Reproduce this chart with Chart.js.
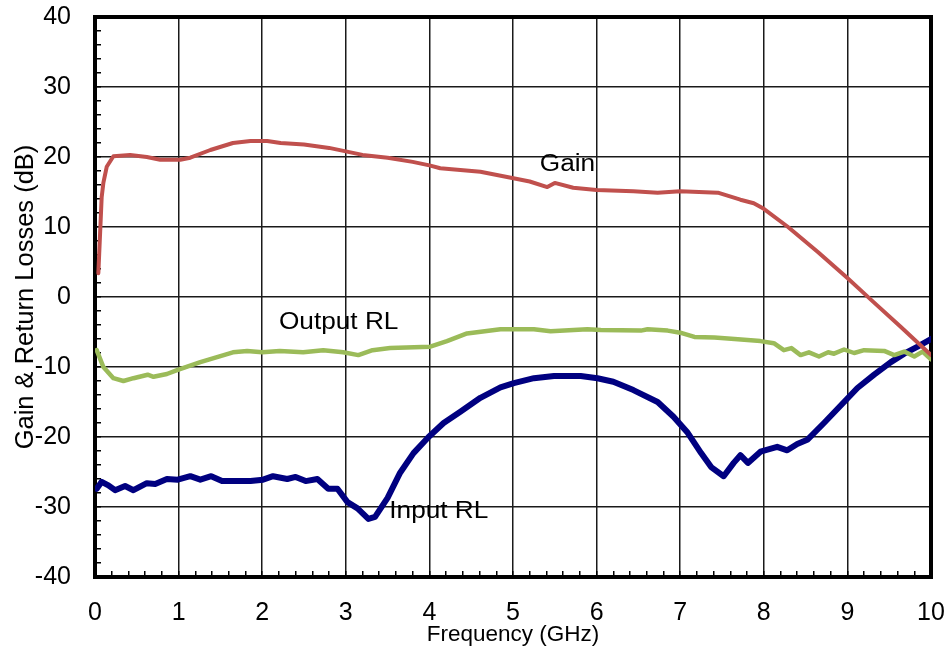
<!DOCTYPE html>
<html>
<head>
<meta charset="utf-8">
<script src="https://cdn.jsdelivr.net/npm/chart.js@4.4.1/dist/chart.umd.min.js"></script>
<style>
  html, body { margin: 0; padding: 0; background: #fff; }
  canvas { display: block; }
</style>
</head>
<body>
<canvas id="rfChart" width="950" height="656"></canvas>
<script>
// Gain (dB) vs frequency (GHz)
const gainFreq = [0.04, 0.08, 0.10, 0.14, 0.22, 0.42, 0.62, 0.78, 1.02, 1.14, 1.38, 1.65, 1.86, 2.06, 2.22,
  2.5, 2.8, 3.0, 3.2, 3.5, 3.8, 4.0, 4.13, 4.61, 4.99, 5.2, 5.41, 5.5, 5.72, 6.0, 6.44, 6.73, 7.0, 7.45,
  7.72, 7.88, 8.0, 8.29, 8.65, 9.0, 9.31, 9.64, 10.0];
const gainDb = [3.4, 14.3, 16.3, 18.6, 20.1, 20.3, 20.0, 19.6, 19.6, 19.9, 21.0, 22.0, 22.3, 22.3, 22.0,
  21.8, 21.3, 20.8, 20.3, 19.9, 19.3, 18.8, 18.4, 17.9, 17.0, 16.5, 15.7, 16.3, 15.6, 15.3, 15.1, 14.9, 15.1, 14.9,
  13.9, 13.4, 12.6, 10.0, 6.4, 2.7, -0.7, -4.3, -8.3];

// Output return loss
const outFreq = [0.02, 0.1, 0.22, 0.34, 0.46, 0.63, 0.7, 0.86, 0.99, 1.26, 1.65, 1.82, 2.0, 2.21, 2.49,
  2.73, 2.97, 3.15, 3.32, 3.53, 4.01, 4.21, 4.45, 4.85, 5.25, 5.45, 5.89, 6.05, 6.53, 6.61, 6.85, 7.0,
  7.17, 7.41, 7.65, 7.96, 8.12, 8.24, 8.33, 8.44, 8.54, 8.66, 8.77, 8.84, 8.96, 9.08, 9.2, 9.44, 9.56,
  9.68, 9.8, 9.9, 10.0];
const outRlDb = [-7.6, -10.0, -11.6, -12.0, -11.6, -11.1, -11.4, -11.0, -10.4, -9.3, -7.9, -7.7, -7.9, -7.7, -7.9,
  -7.6, -7.9, -8.3, -7.6, -7.3, -7.1, -6.3, -5.2, -4.6, -4.6, -4.9, -4.6, -4.7, -4.8, -4.6, -4.8, -5.1,
  -5.7, -5.8, -6.0, -6.3, -6.6, -7.6, -7.3, -8.3, -7.9, -8.5, -7.9, -8.1, -7.5, -8.0, -7.6, -7.7, -8.3,
  -7.8, -8.5, -7.8, -8.9];

// Input return loss
const inFreq = [0.02, 0.08, 0.16, 0.24, 0.36, 0.46, 0.62, 0.72, 0.86, 0.99, 1.14, 1.26, 1.39, 1.52, 1.7,
  1.86, 2.01, 2.13, 2.3, 2.4, 2.52, 2.66, 2.79, 2.9, 3.02, 3.14, 3.27, 3.35, 3.5, 3.65, 3.81, 3.99,
  4.17, 4.37, 4.61, 4.85, 5.01, 5.25, 5.49, 5.65, 5.81, 6.01, 6.2, 6.44, 6.73, 6.92, 7.09, 7.25, 7.37,
  7.52, 7.64, 7.72, 7.81, 7.96, 8.16, 8.28, 8.4, 8.52, 8.72, 8.96, 9.12, 9.32, 9.52, 9.68, 9.84, 10.0];
const inRlDb = [-27.4, -26.4, -26.9, -27.6, -27.0, -27.6, -26.6, -26.7, -26.0, -26.1, -25.6, -26.1, -25.6, -26.3, -26.3,
  -26.3, -26.1, -25.6, -26.0, -25.7, -26.3, -26.0, -27.4, -27.4, -29.3, -30.2, -31.7, -31.4, -28.7, -25.1, -22.3, -20.0,
  -18.0, -16.4, -14.4, -12.9, -12.3, -11.6, -11.3, -11.3, -11.3, -11.6, -12.1, -13.3, -15.0, -17.1, -19.4, -22.3, -24.3,
  -25.6, -23.7, -22.6, -23.7, -22.1, -21.4, -21.9, -21.0, -20.4, -18.0, -15.0, -13.0, -11.1, -9.3, -8.1, -7.1, -6.0];

const curveNames = ['Gain', 'Output RL', 'Input RL'];
const FONT = 'Liberation Sans, Arial, sans-serif';

const toPoints = (xs, ys) => xs.map((x, i) => ({ x: x, y: ys[i] }));

// text next to each curve, anchored in data units (left edge, vertical middle)
const curveLabels = {
  id: 'curveLabels',
  afterDatasetsDraw(chart) {
    const { ctx, scales: { x, y } } = chart;
    const anchors = [[5.32, 18.9], [2.2, -3.7], [3.52, -30.7]];
    ctx.save();
    ctx.font = '23px ' + FONT;
    ctx.fillStyle = '#000';
    ctx.textAlign = 'left';
    ctx.textBaseline = 'middle';
    curveNames.forEach((name, i) => {
      const px = x.getPixelForValue(anchors[i][0]);
      const py = y.getPixelForValue(anchors[i][1]);
      ctx.save();
      ctx.translate(px, py);
      ctx.scale(1.14, 1);
      ctx.fillText(name, 0, 0);
      ctx.restore();
    });
    ctx.restore();
  }
};

// top and right edges of the plot box
const frame = {
  id: 'frame',
  beforeDatasetsDraw(chart) {
    const { ctx, chartArea: a } = chart;
    ctx.save();
    ctx.strokeStyle = '#000';
    ctx.lineWidth = 4;
    ctx.beginPath();
    ctx.moveTo(a.left - 2, a.top);
    ctx.lineTo(a.right, a.top);
    ctx.lineTo(a.right, a.bottom + 2);
    ctx.stroke();
    ctx.restore();
  }
};

const isMajor = (v, step) => Math.abs(v / step - Math.round(v / step)) < 1e-6;

new Chart(document.getElementById('rfChart').getContext('2d'), {
  type: 'line',
  data: {
    datasets: [
      { label: curveNames[0], data: toPoints(gainFreq, gainDb), borderColor: '#C0504D', borderWidth: 4 },
      { label: curveNames[1], data: toPoints(outFreq, outRlDb), borderColor: '#9BBB59', borderWidth: 4.5 },
      { label: curveNames[2], data: toPoints(inFreq, inRlDb), borderColor: '#000080', borderWidth: 6 }
    ]
  },
  options: {
    responsive: false,
    animation: false,
    devicePixelRatio: 1,
    layout: { padding: { top: 17, right: 19, left: 0, bottom: 0 } },
    elements: { point: { radius: 0 }, line: { tension: 0, borderCapStyle: 'round', borderJoinStyle: 'round' } },
    plugins: { legend: { display: false }, tooltip: { enabled: false } },
    scales: {
      x: {
        type: 'linear',
        min: 0,
        max: 10,
        afterFit: s => { s.height = 79; s.paddingLeft = 0; s.paddingRight = 0; },
        border: { color: '#000', width: 4 },
        grid: {
          color: c => isMajor(c.tick.value, 1) ? '#1a1a1a' : 'rgba(0,0,0,0)',
          lineWidth: 1.5,
          tickColor: '#000',
          tickLength: -6,
          tickWidth: 1.5
        },
        ticks: {
          stepSize: 0.2,
          autoSkip: false,
          maxRotation: 0,
          padding: 27,
          color: '#000',
          font: { family: FONT, size: 25 },
          callback: v => isMajor(v, 1) ? String(Math.round(v)) : ''
        },
        title: {
          display: true,
          text: 'Frequency (GHz)',
          color: '#000',
          font: { family: FONT, size: 22.5 },
          padding: { top: 0, bottom: 8 }
        }
      },
      y: {
        min: -40,
        max: 40,
        afterFit: s => { s.width = 95; s.paddingTop = 0; s.paddingBottom = 0; },
        border: { color: '#000', width: 4 },
        grid: {
          color: c => isMajor(c.tick.value, 10) ? '#1a1a1a' : 'rgba(0,0,0,0)',
          lineWidth: 1.5,
          tickColor: '#000',
          tickLength: -6,
          tickWidth: 1.5
        },
        ticks: {
          stepSize: 2,
          autoSkip: false,
          padding: 30,
          color: '#000',
          font: { family: FONT, size: 25 },
          callback: v => isMajor(v, 10) ? String(Math.round(v)) : ''
        },
        title: {
          display: true,
          text: 'Gain & Return Losses (dB)',
          color: '#000',
          font: { family: FONT, size: 25.5 },
          padding: { top: 11, bottom: 0 }
        }
      }
    }
  },
  plugins: [frame, curveLabels]
});
</script>
</body>
</html>
